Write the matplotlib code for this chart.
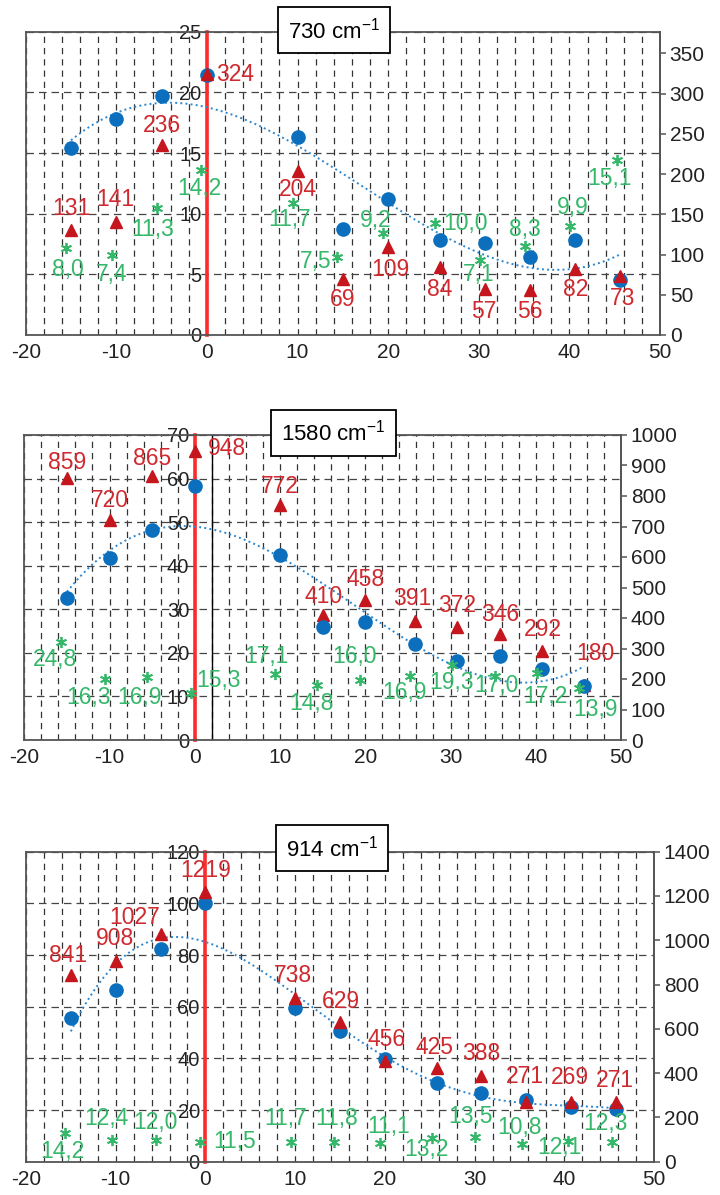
import numpy as np
import matplotlib.pyplot as plt

plt.rcParams['font.family'] = ['Liberation Sans', 'DejaVu Sans']
plt.rcParams['axes.unicode_minus'] = False

# 730 cm-1 데이터
x_730 = [-15, -10, -5, 0, 10, 15, 20, 25.7, 30.7, 35.6, 40.6, 45.6]
circle_730 = [15.4, 17.8, 19.7, 21.4, 16.35, 8.7, 11.2, 7.8, 7.55, 6.4, 7.8, 4.5]
tri_730 = [131, 141, 236, 324, 204, 69, 109, 84, 57, 56, 82, 73]
star_x_730 = [-15.5, -10.5, -5.5, -0.6, 9.5, 14.4, 19.4, 25.2, 30.1, 35.1, 40.1, 45.2]
star_y_730 = [7.15, 6.6, 10.45, 13.6, 10.9, 6.45, 8.4, 9.25, 6.2, 7.3, 9.0, 14.4]
star_lab_730 = ['8,0', '7,4', '11,3', '14,2', '11,7', '7,5', '9,2', '10,0', '7,1', '8,3', '9,9', '15,1']

# 1580 cm-1 데이터
x_1580 = [-15, -10, -5, 0, 10, 15, 20, 25.8, 30.75, 35.8, 40.7, 45.7]
circle_1580 = [32.7, 41.7, 48.2, 58.3, 42.5, 26.0, 27.1, 22.0, 18.2, 19.3, 16.2, 12.3]
tri_1580 = [859, 720, 865, 948, 772, 410, 458, 391, 372, 346, 292, 180]
star_x_1580 = [-15.7, -10.55, -5.65, -0.5, 9.4, 14.35, 19.35, 25.2, 30.2, 35.2, 40.1, 45.1]
star_y_1580 = [22.4, 13.9, 14.5, 10.9, 15.1, 12.6, 13.8, 14.7, 17.2, 14.8, 15.3, 11.9]
star_lab_1580 = ['24,8', '16,3', '16,9', '15,3', '17,1', '14,8', '16,0', '16,9', '19,3', '17,0', '17,2', '13,9']

# 914 cm-1 데이터
x_914 = [-15, -10, -5, 0, 10, 15, 20, 25.8, 30.7, 35.7, 40.8, 45.8]
circle_914 = [55.5, 66.5, 82.2, 100.3, 59.4, 50.7, 39.6, 30.6, 26.7, 23.9, 21.0, 20.3]
tri_914 = [841, 908, 1027, 1219, 738, 629, 456, 425, 388, 271, 269, 271]
star_x_914 = [-15.6, -10.45, -5.55, -0.6, 9.5, 14.35, 19.45, 25.3, 30.1, 35.25, 40.4, 45.3]
star_y_914 = [11.0, 8.4, 8.4, 7.7, 7.7, 7.7, 7.1, 9.05, 9.7, 6.85, 8.0, 7.7]
star_lab_914 = ['14,2', '12,4', '12,0', '11,5', '11,7', '11,8', '11,1', '13,2', '13,5', '10,8', '12,1', '12,3']

# 라벨 위치 (픽셀 오프셋)
red_off = [
    [(0, 21), (-1, 22), (0, 20), (28, 0), (0, -19), (0, -20), (2, -22), (0, -22), (-1, -22), (0, -22), (1, -20), (2, -22)],
    [(0, 16), (0, 20), (0, 18), (32, 2), (0, 18), (1, 18), (0, 21), (-2, 22), (0, 21), (0, 20), (1, 21), (11, 32)],
    [(-3, 20), (-1, 22), (-26, 17), (0, 21), (-2, 23), (1, 21), (2, 21), (-2, 20), (0, 22), (-1, 25), (-2, 25), (-1, 21)],
]
green_off = [
    [(1, -21), (0, -20), (-4, -21), (-2, -18), (-3, -17), (-22, -5), (-7, 13), (30, -1), (-1, -15), (0, 17), (2, 18), (-7, -18)],
    [(-6, -17), (-16, -18), (-7, -21), (28, 12), (-8, 18), (-6, -18), (-5, 23), (-5, -17), (-1, -17), (2, -10), (9, -23), (16, -21)],
    [(-3, -18), (-5, 22), (0, 17), (35, 0), (-5, 23), (2, 23), (9, 17), (-6, -11), (-5, 20), (-2, 17), (-8, -6), (-6, 18)],
]

# 패널 설정: (픽셀 사각형, 왼쪽 축 최대, 간격, 오른쪽 축 최대, 오른쪽 눈금 최대, 간격, 제목, 제목 위치, 추세선 차수)
panels = [
    ((25.7, 31.7, 660, 335), 25, 5, 377, 350, 50, '730', (0.486, 1.005), 3),
    ((24.3, 435, 621, 740), 70, 10, 1000, 1000, 100, '1580', (0.518, 1.008), 3),
    ((26, 851.7, 654, 1161.7), 120, 20, 1400, 1400, 200, '914', (0.487, 1.011), 4),
]
series = [
    (x_730, circle_730, tri_730, star_x_730, star_y_730, star_lab_730),
    (x_1580, circle_1580, tri_1580, star_x_1580, star_y_1580, star_lab_1580),
    (x_914, circle_914, tri_914, star_x_914, star_y_914, star_lab_914),
]

blue = '#0b6fbd'
red = '#c4161c'
red_txt = '#cf2a2f'
green = '#35b86a'
spine_col = '#555555'

W, H = 720, 1195
fig = plt.figure(figsize=(W / 100, H / 100), dpi=100)

for i, (p, s) in enumerate(zip(panels, series)):
    (x0, y0, x1, y1), ltop, lstep, rtop, rtick, rstep, title, tpos, deg = p
    xs, circ, tri, sx, sy, slab = s

    ax = fig.add_axes([x0 / W, 1 - y1 / H, (x1 - x0) / W, (y1 - y0) / H])
    ax2 = ax.twinx()
    ax.set_xlim(-20, 50)
    ax.set_ylim(0, ltop)
    ax2.set_ylim(0, rtop)

    # 격자
    ax.set_xticks(np.arange(-20, 51, 10))
    ax.set_xticks(np.arange(-18, 50, 2), minor=True)
    ax.set_yticks(np.arange(0, ltop + 1, lstep))
    ax.xaxis.grid(True, which='both', color='#333333', ls=(0, (5, 4)), lw=0.9)
    ax.yaxis.grid(True, which='major', color='#444444', ls=(0, (6, 4)), lw=0.9)
    ax.tick_params(axis='x', which='both', length=0, pad=6, labelsize=15, labelcolor='#222222')
    ax.tick_params(axis='y', length=0, pad=4, labelsize=14.5, labelcolor='#222222')

    # 왼쪽 축은 x=0 빨간 선
    ax.spines['left'].set_position(('data', 0))
    ax.spines['left'].set_color('#ff2a2a')
    ax.spines['left'].set_linewidth(2.6)
    for side in ['top', 'bottom', 'right']:
        ax.spines[side].set_color(spine_col)
        ax.spines[side].set_linewidth(1.3)
    ax.axvline(-20, color=spine_col, lw=1.3, clip_on=False, zorder=2.6)
    if i == 1:
        ax.axvline(2, color='black', lw=1.0, zorder=2.4)

    # 오른쪽 축
    ax2.set_yticks(np.arange(0, rtick + 1, rstep))
    for side in ['top', 'bottom', 'left']:
        ax2.spines[side].set_visible(False)
    ax2.spines['right'].set_color(spine_col)
    ax2.spines['right'].set_linewidth(1.3)
    ax2.tick_params(axis='y', length=4, width=1.1, color=spine_col, pad=3, labelsize=15, labelcolor='#222222')

    # 추세선 (다항식)
    coef = np.polyfit(xs, circ, deg)
    xf = np.linspace(min(xs), max(xs), 200)
    ax.plot(xf, np.polyval(coef, xf), color='#2b86d0', ls=':', lw=1.4, zorder=3)

    # 원, 삼각형, 별
    tri_z = 3.5 if i == 1 else 5
    ax.plot(xs, circ, 'o', ms=9.5, color=blue, mec=blue, zorder=4)
    ax.plot(xs, tri, '^', ms=9, color=red, mec=red, transform=ax2.transData, zorder=tri_z)
    ax.plot(sx, sy, ls='none', marker=(6, 2, 0), ms=8, mec=green, mew=1.3, zorder=4)

    for k in range(len(xs)):
        ax.annotate(str(tri[k]), (xs[k], tri[k]), xycoords=ax2.transData,
                    xytext=red_off[i][k], textcoords='offset pixels',
                    ha='center', va='center', fontsize=16.5, color=red_txt, zorder=6)
        ax.annotate(slab[k], (sx[k], sy[k]),
                    xytext=green_off[i][k], textcoords='offset pixels',
                    ha='center', va='center', fontsize=16.5, color=green, zorder=6)

    ax.text(tpos[0], tpos[1], title + r' cm$^{\mathregular{-1}}$', transform=ax.transAxes,
            ha='center', va='center', fontsize=16, color='black', zorder=10,
            bbox=dict(boxstyle='square,pad=0.45', fc='white', ec='black', lw=1.3))

fig.savefig('out.png', dpi=100)
